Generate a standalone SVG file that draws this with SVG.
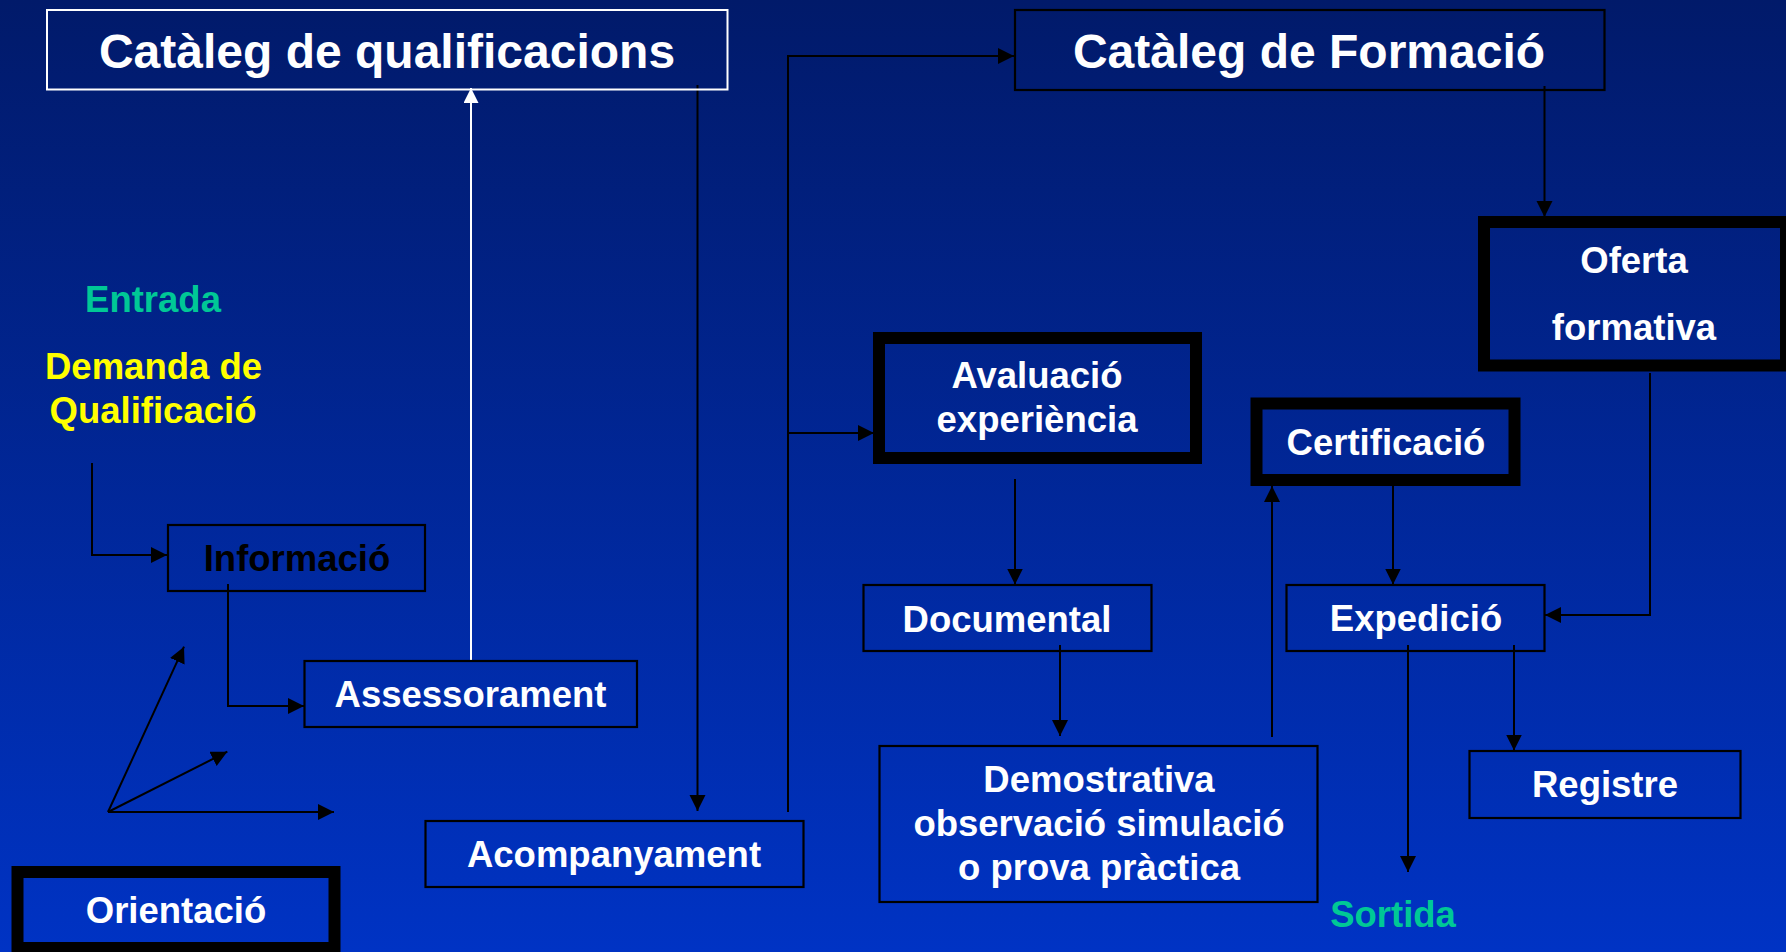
<svg xmlns="http://www.w3.org/2000/svg" width="1786" height="952" viewBox="0 0 1786 952">
<defs>
<linearGradient id="bg" x1="0" y1="0" x2="0" y2="1">
<stop offset="0" stop-color="#011a6a"/>
<stop offset="1" stop-color="#0033c4"/>
</linearGradient>
<marker id="ab" markerUnits="userSpaceOnUse" markerWidth="17" markerHeight="17" refX="16" refY="8" orient="auto">
<path d="M0,0 L16,8 L0,16 z" fill="#000"/>
</marker>
<marker id="aw" markerUnits="userSpaceOnUse" markerWidth="17" markerHeight="17" refX="15" refY="7.5" orient="auto">
<path d="M0,0 L15,7.5 L0,15 z" fill="#fff"/>
</marker>
<style>
text{font-family:"Liberation Sans",Arial,sans-serif;font-weight:bold;text-anchor:middle}
.t{font-size:36.5px;fill:#fff}
.big{font-size:48px;fill:#fff}
.thin{fill:none;stroke:#000;stroke-width:2.2}
.thick{fill:none;stroke:#000;stroke-width:12}
.c{fill:none;stroke:#000;stroke-width:2}
.cw{fill:none;stroke:#fff;stroke-width:2}
</style>
</defs>
<rect width="1786" height="952" fill="url(#bg)"/>

<g id="connectors">
<path class="c" d="M92,463 V555 H167" marker-end="url(#ab)"/>
<path class="c" d="M228,584 V706 H304" marker-end="url(#ab)"/>
<path class="cw" d="M471,661 V88" marker-end="url(#aw)"/>
<path class="c" d="M697.5,85 V811" marker-end="url(#ab)"/>
<path class="c" d="M788,812 V56 H1014" marker-end="url(#ab)"/>
<path class="c" d="M788,433 H874" marker-end="url(#ab)"/>
<path class="c" d="M1544.5,86 V217" marker-end="url(#ab)"/>
<path class="c" d="M1015,479 V584.5" marker-end="url(#ab)"/>
<path class="c" d="M1060,645 V736" marker-end="url(#ab)"/>
<path class="c" d="M1272,737 V486" marker-end="url(#ab)"/>
<path class="c" d="M1393,486 V584.5" marker-end="url(#ab)"/>
<path class="c" d="M1650,373 V615 H1545" marker-end="url(#ab)"/>
<path class="c" d="M1408,645 V872" marker-end="url(#ab)"/>
<path class="c" d="M1514,645 V750.5" marker-end="url(#ab)"/>
<path class="c" d="M108,812 L184,646.7" marker-end="url(#ab)"/>
<path class="c" d="M108,812 L227.3,751.7" marker-end="url(#ab)"/>
<path class="c" d="M108,812 H334" marker-end="url(#ab)"/>
</g>

<g id="cataleg-qualificacions">
<rect x="47" y="10" width="680.5" height="79.5" fill="none" stroke="#fff" stroke-width="2"/>
<text class="big" x="387" y="68">Catàleg de qualificacions</text>
</g>

<g id="cataleg-formacio">
<rect class="thin" x="1015" y="10" width="589.5" height="80"/>
<text class="big" x="1309" y="68">Catàleg de Formació</text>
</g>

<g id="entrada">
<text x="153" y="312" font-size="36.5" fill="#00c896">Entrada</text>
</g>

<g id="demanda">
<text x="153.5" y="379" font-size="36.5" fill="#ffff00">Demanda de</text>
<text x="153" y="423" font-size="36.5" fill="#ffff00">Qualificació</text>
</g>

<g id="informacio">
<rect class="thin" x="168" y="525" width="257" height="66"/>
<text class="t" x="297" y="571" style="fill:#000">Informació</text>
</g>

<g id="assessorament">
<rect class="thin" x="304.5" y="661" width="332.5" height="66"/>
<text class="t" x="470.5" y="707">Assessorament</text>
</g>

<g id="acompanyament">
<rect class="thin" x="425.5" y="821" width="378" height="66"/>
<text class="t" x="614" y="867">Acompanyament</text>
</g>

<g id="orientacio">
<rect class="thick" x="17.5" y="872" width="317" height="76"/>
<text class="t" x="176" y="923">Orientació</text>
</g>

<g id="avaluacio">
<rect class="thick" x="879" y="338" width="317" height="120"/>
<text class="t" x="1037" y="388">Avaluació</text>
<text class="t" x="1037" y="432">experiència</text>
</g>

<g id="documental">
<rect class="thin" x="863.5" y="585" width="288" height="66"/>
<text class="t" x="1007" y="631.5">Documental</text>
</g>

<g id="demostrativa">
<rect class="thin" x="879.5" y="746" width="438" height="156"/>
<text class="t" x="1099" y="791.5">Demostrativa</text>
<text class="t" x="1099" y="836">observació simulació</text>
<text class="t" x="1099" y="880">o prova pràctica</text>
</g>

<g id="certificacio">
<rect class="thick" x="1256.5" y="403.5" width="258" height="76.5"/>
<text class="t" x="1386" y="454.5">Certificació</text>
</g>

<g id="oferta">
<rect class="thick" x="1484" y="222" width="302" height="143.5"/>
<text class="t" x="1634" y="273">Oferta</text>
<text class="t" x="1634" y="340">formativa</text>
</g>

<g id="expedicio">
<rect class="thin" x="1286.5" y="585" width="258" height="66"/>
<text class="t" x="1416" y="631">Expedició</text>
</g>

<g id="registre">
<rect class="thin" x="1469.5" y="751" width="271" height="67"/>
<text class="t" x="1605" y="797">Registre</text>
</g>

<g id="sortida">
<text x="1393" y="927" font-size="36.5" fill="#00c896">Sortida</text>
</g>
</svg>
